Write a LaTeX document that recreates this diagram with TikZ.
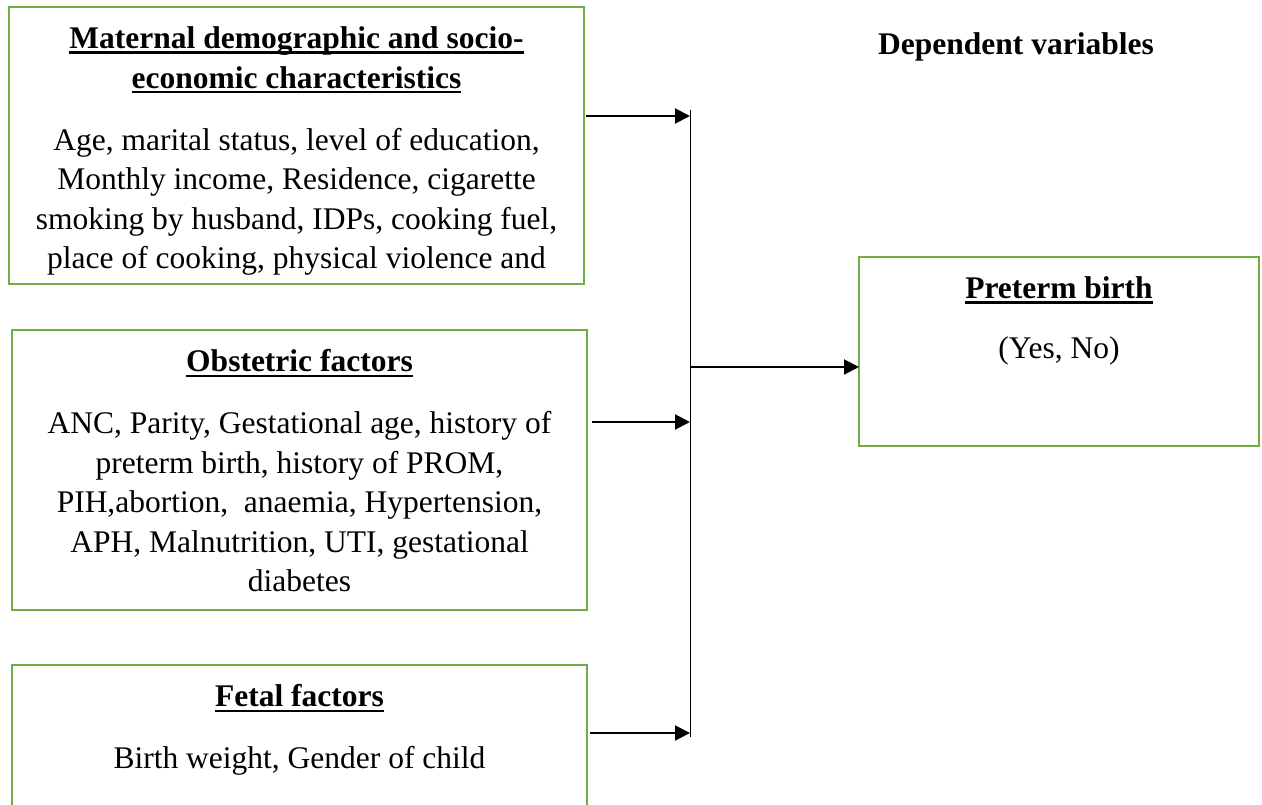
\documentclass[tikz,border=0pt]{standalone}
\usepackage{fontspec}
\setmainfont{Liberation Serif}
\usepackage{xcolor}
\usetikzlibrary{positioning, arrows.meta}
\definecolor{boxgreen}{RGB}{112,173,71}
% underline at a fixed depth, as in the reference
\newcommand{\undl}[1]{\setbox0\hbox{#1}\rlap{\rule[-5pt]{\wd0}{2.2pt}}\box0}

\begin{document}
\begin{tikzpicture}[x=1pt, y=-1pt]
	% Define styles
	\tikzset{
		box/.style={rectangle, draw=boxgreen, line width=2.5pt, anchor=north west, outer sep=0pt, inner sep=0pt},
		head/.style={font=\fontsize{31.5pt}{39.5pt}\selectfont\bfseries, align=center, inner sep=0pt},
		body/.style={font=\fontsize{31.5pt}{39.5pt}\selectfont, align=center, inner sep=0pt},
		line/.style={draw, line width=2pt, -{Triangle[length=15pt, width=15pt]}},
		bus/.style={draw, line width=1pt}
	}
	
	\useasboundingbox (0,0) rectangle (1262,805);
	\clip (0,0) rectangle (1262,805);
	
	% Boxes
	\node[box, minimum width=575pt, minimum height=277pt] (mat) at (9,7) {};
	\node[box, minimum width=575pt, minimum height=280pt] (obs) at (12,330) {};
	\node[box, minimum width=575pt, minimum height=170pt] (fet) at (12,665) {};
	\node[box, minimum width=400pt, minimum height=189pt] (pre) at (859,257) {};
	
	% Texts
	\node[head, below=19.5pt of mat.north] (mathead) {\undl{Maternal demographic and socio-}\\\undl{economic characteristics}};
	\node[body, below=34.5pt of mathead] (matbody) {Age, marital status, level of education,\\Monthly income, Residence, cigarette\\smoking by husband, IDPs, cooking fuel,\\place of cooking, physical violence and};
	
	\node[head, below=19.5pt of obs.north] (obshead) {\undl{Obstetric factors}};
	\node[body, below=34.5pt of obshead] (obsbody) {ANC, Parity, Gestational age, history of\\preterm birth, history of PROM,\\PIH,abortion, \ anaemia, Hypertension,\\APH, Malnutrition, UTI, gestational\\diabetes};
	
	\node[head, below=19.5pt of fet.north] (fethead) {\undl{Fetal factors}};
	\node[body, below=34.5pt of fethead] (fetbody) {Birth weight, Gender of child};
	
	\node[head, below=19.5pt of pre.north] (prehead) {\undl{Preterm birth}};
	\node[body, below=33pt of prehead] (prebody) {(Yes, No)};
	
	\node[head, anchor=base] (dep) at (1016,55) {Dependent variables};
	
	% Bus and arrows
	\coordinate (bustop) at (690,110);
	\coordinate (busbot) at (690,737);
	\coordinate (in1) at (690,116);
	\coordinate (in2) at (690,422);
	\coordinate (in3) at (690,733);
	\coordinate (out) at (690,367);
	
	\draw[bus] (bustop) -- (busbot);
	
	\draw[line, shorten <=2pt] (mat.east |- in1) -- (in1);
	\draw[line, shorten <=5pt] (obs.east |- in2) -- (in2);
	\draw[line, shorten <=3pt] (fet.east |- in3) -- (in3);
	\draw[line] (out) -- (pre.west |- out);
	
\end{tikzpicture}
\end{document}
